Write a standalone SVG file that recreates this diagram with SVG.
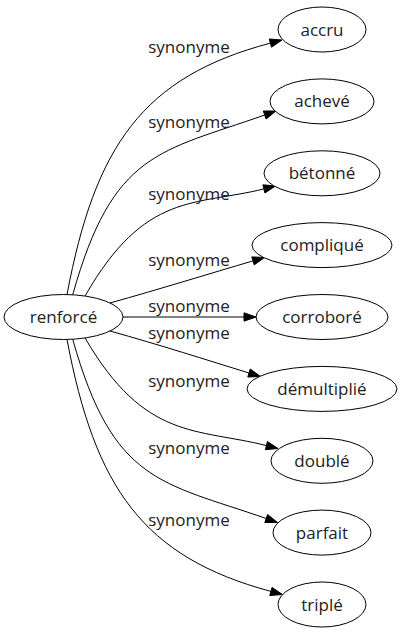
<svg xmlns="http://www.w3.org/2000/svg" width="403" height="635" viewBox="0 0 403 635">
<style>
.node ellipse{fill:#fff;stroke:#000;stroke-width:1}
.node text{font-family:"Open Sans","Noto Sans",sans-serif;font-size:17px;fill:#222;text-anchor:middle}
.edges path{fill:none;stroke:#000;stroke-width:1}
.edges polygon{fill:#000;stroke:#000;stroke-width:1}
.edges text{font-family:"Open Sans","Noto Sans",sans-serif;font-size:17px;fill:#222;text-anchor:middle}
</style>
<rect width="403" height="635" fill="#fff"/>
<g id="edges" class="edges">
<path d="M67,294.6 C95,146 142.5,77 270.4,43.1"/><polygon points="282,40 271.5,47.2 269.3,39"/>
<text x="189" y="53">synonyme</text>
<path d="M72.7,294.8 C113,151 160,152 264.7,115"/><polygon points="276,111 266.1,119 263.3,111"/>
<text x="189" y="128">synonyme</text>
<path d="M85,296.1 C145,191 195.5,206 263.9,188.9"/><polygon points="275.5,186 264.9,193 262.9,184.8"/>
<text x="189" y="200">synonyme</text>
<path d="M110,303 C160,289 210,273.5 253,260.9"/><polygon points="264.5,257.5 254.2,264.9 251.8,256.9"/>
<text x="189" y="266">synonyme</text>
<path d="M123,317 L244,317"/><polygon points="256,317 244,321.2 244,312.8"/>
<text x="189" y="312">synonyme</text>
<path d="M110,331 C160,345 207,360 249,373"/><polygon points="260.5,376.5 247.8,377 250.2,369"/>
<text x="189" y="338.5">synonyme</text>
<path d="M85,337.9 C145,441 197,428 266.4,445.6"/><polygon points="278,448.5 265.4,449.7 267.4,441.5"/>
<text x="189" y="387">synonyme</text>
<path d="M72.7,339.2 C113,483 161,482 266.2,518.5"/><polygon points="277.5,522.5 264.8,522.5 267.6,514.5"/>
<text x="189" y="454">synonyme</text>
<path d="M67,339.4 C95,488 143,557 270.9,591.4"/><polygon points="282.5,594.5 269.8,595.5 272,587.4"/>
<text x="189" y="526">synonyme</text>
</g>
<g id="renforce" class="node"><ellipse cx="63.5" cy="317" rx="59.5" ry="22.5"/><text x="63.5" y="323">renforcé</text></g>
<g id="accru" class="node"><ellipse cx="322" cy="29.5" rx="44" ry="22.5"/><text x="322" y="35.5">accru</text></g>
<g id="acheve" class="node"><ellipse cx="322" cy="101.4" rx="52" ry="22.5"/><text x="322" y="107.4">achevé</text></g>
<g id="betonne" class="node"><ellipse cx="322" cy="173.3" rx="58" ry="22.5"/><text x="322" y="179.3">bétonné</text></g>
<g id="complique" class="node"><ellipse cx="322" cy="245.1" rx="70" ry="22.5"/><text x="322" y="251.1">compliqué</text></g>
<g id="corrobore" class="node"><ellipse cx="322" cy="317" rx="66" ry="22.5"/><text x="322" y="323">corroboré</text></g>
<g id="demultiplie" class="node"><ellipse cx="322" cy="388.9" rx="75" ry="22.5"/><text x="322" y="394.9">démultiplié</text></g>
<g id="double" class="node"><ellipse cx="322" cy="460.8" rx="51" ry="22.5"/><text x="322" y="466.8">doublé</text></g>
<g id="parfait" class="node"><ellipse cx="322" cy="532.6" rx="49" ry="22.5"/><text x="322" y="538.6">parfait</text></g>
<g id="triple" class="node"><ellipse cx="322" cy="604.5" rx="44" ry="22.5"/><text x="322" y="610.5">triplé</text></g>
</svg>
